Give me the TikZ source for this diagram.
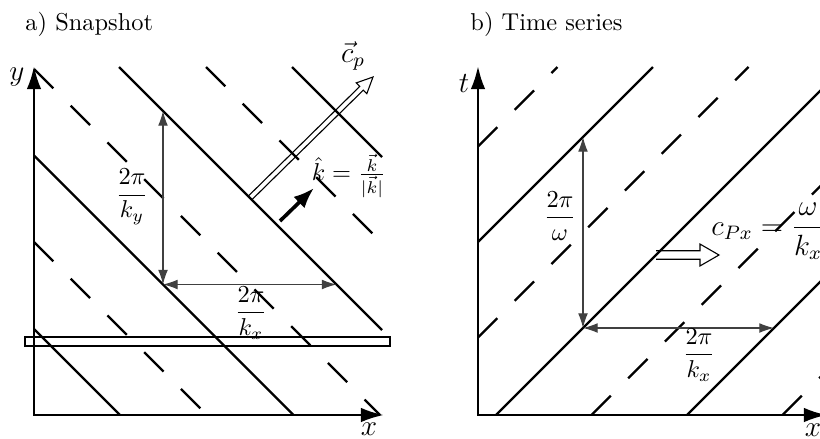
\documentclass[tikz,border=0pt]{standalone}
\usetikzlibrary{arrows.meta,calc}
\begin{document}
\begin{tikzpicture}[x=0.41pt,y=-0.41pt,
  wave/.style={line width=0.9pt},
  wavedash/.style={wave, dash pattern=on 11.2pt off 10.1pt},
  axes/.style={line width=1.1pt,{Latex[length=9.5pt,width=6pt]}-{Latex[length=9.5pt,width=6pt]}},
  dim/.style={line width=0.45pt, black!75, {Latex[length=6pt,width=4pt]}-{Latex[length=6pt,width=4pt]}},
  hollow/.style={line width=0.45pt, line join=miter},
  kvec/.style={line width=1.5pt,-{Latex[length=8.5pt,width=6.5pt]}},
  lbl/.style={inner sep=0pt}]
\useasboundingbox (0,0) rectangle (820,439);

% ---------- panel a ----------
\coordinate (Oa) at (34,415);
\coordinate (Ya) at (34,66);
\coordinate (Xa) at (384,415);
\draw[axes] (Ya) -- (Oa) -- (Xa);

\draw[wave] (292,67) -- (382,157);
\draw[wave] (119,67) -- (382,330);
\draw[wave] (34,155.5) -- (293.5,415);
\draw[wave] (34,329) -- (120,415);
\draw[wavedash] (206,67) -- (382,243);
\draw[wavedash] (34,69) -- (380,415);
\draw[wavedash] (34,242) -- (207,415);

\draw[line width=0.5pt] (25,337) rectangle (390,346);

\coordinate (dA1) at (163,111);
\coordinate (dA2) at (163,284.5);
\coordinate (dA3) at (336.5,284.5);
\draw[dim] (dA1) -- (dA2);
\draw[dim] (dA2) -- (dA3);

% c_p hollow arrow
\coordinate (cpS) at (250,198);
\coordinate (cpT) at (373,77);
\coordinate (cpH) at ($(cpT)!6.6pt!(cpS)$);
\draw[hollow] ($(cpS)!1.05pt!90:(cpT)$) -- ($(cpH)!1.05pt!90:(cpT)$)
  -- ($(cpH)!3.1pt!90:(cpT)$) -- (cpT) -- ($(cpH)!3.1pt!-90:(cpT)$)
  -- ($(cpH)!1.05pt!-90:(cpT)$) -- ($(cpS)!1.05pt!-90:(cpT)$);

% k hat arrow
\coordinate (kS) at (280,221);
\coordinate (kT) at (314,188);
\draw[kvec] (kS) -- (kT);

\node[lbl] (ky) at (132,197) {$\displaystyle\frac{2\pi}{k_y}$};
\node[lbl] (kxa) at (251,313) {$\displaystyle\frac{2\pi}{k_x}$};
\node[lbl] (cp) at (353,56) {\large$\vec{c}_p$};
\node[lbl] (khat) at (349,176) {$\hat{k}=\frac{\vec{k}}{|\vec{k}|}$};
\node[lbl,anchor=base west] (ta) at (25,30) {a) Snapshot};
\node[lbl] (ly) at (17,77) {\large$y$};
\node[lbl] (lxa) at (369,429) {\large$x$};

% ---------- panel b ----------
\coordinate (Ob) at (478,415);
\coordinate (Tb) at (478,66);
\coordinate (Xb) at (827,415);
\draw[axes] (Tb) -- (Ob) -- (Xb);

\draw[wave] (478,242) -- (653,67);
\draw[wave] (496,415) -- (826,85);
\draw[wave] (687,415) -- (826,276);
\draw[wavedash] (478,146.5) -- (557.5,67);
\draw[wavedash] (478,337.5) -- (748.5,67);
\draw[wavedash] (591.5,415) -- (826,180.5);
\draw[wavedash] (782.5,415) -- (826,371.5);

\coordinate (dB1) at (583,137);
\coordinate (dB2) at (583,328);
\coordinate (dB3) at (774,328);
\draw[dim] (dB1) -- (dB2);
\draw[dim] (dB2) -- (dB3);

% c_Px hollow arrow
\coordinate (vS) at (656,255);
\coordinate (vT) at (719,255);
\coordinate (vH) at ($(vT)!7.8pt!(vS)$);
\draw[hollow] ($(vS)!1.76pt!90:(vT)$) -- ($(vH)!1.76pt!90:(vT)$)
  -- ($(vH)!4.5pt!90:(vT)$) -- (vT) -- ($(vH)!4.5pt!-90:(vT)$)
  -- ($(vH)!1.76pt!-90:(vT)$) -- ($(vS)!1.76pt!-90:(vT)$);

\node[lbl] (om) at (560,216) {$\displaystyle\frac{2\pi}{\omega}$};
\node[lbl] (kxb) at (699,355) {$\displaystyle\frac{2\pi}{k_x}$};
\node[lbl,anchor=base west] (cpx) at (711,235) {\large$c_{Px}=\displaystyle\frac{\omega}{k_x}$};
\node[lbl,anchor=base west] (tb) at (470,30) {b) Time series};
\node[lbl] (lt) at (464,83) {\large$t$};
\node[lbl] (lxb) at (813,430) {\large$x$};
\end{tikzpicture}
\end{document}
